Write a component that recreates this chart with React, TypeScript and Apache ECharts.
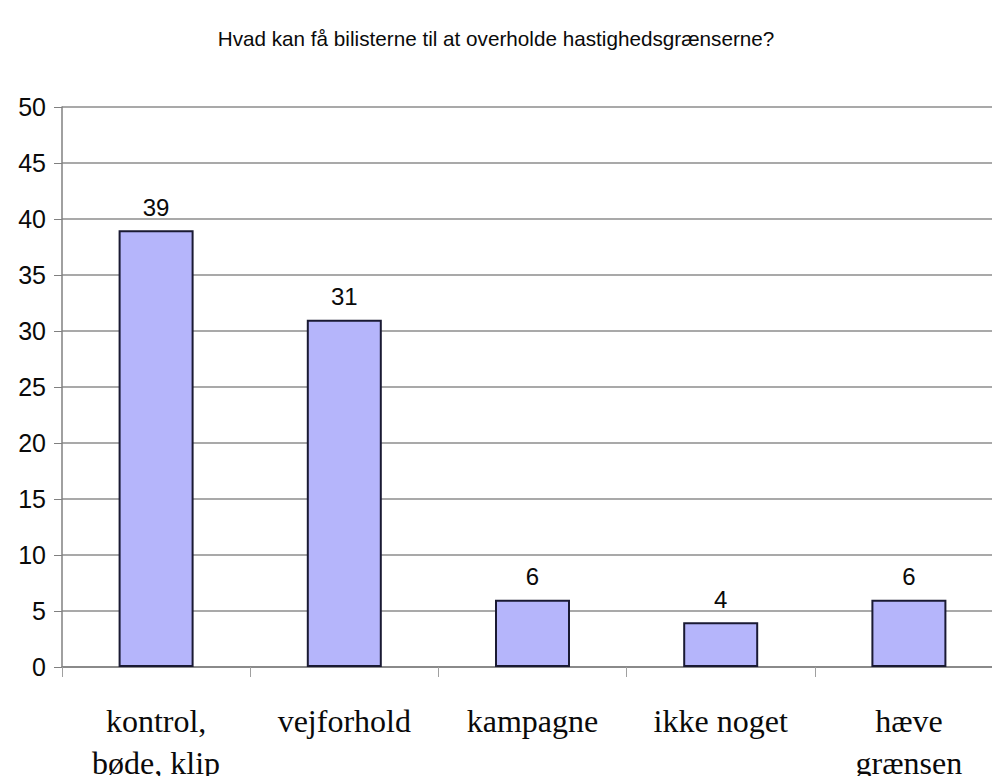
import React, { useEffect, useRef } from "react";
import * as echarts from "echarts";

const titleText = "Hvad kan få bilisterne til at overholde hastighedsgrænserne?";
const categories = ["kontrol,\nbøde, klip", "vejforhold", "kampagne", "ikke noget", "hæve\ngrænsen"];
const values = [39, 31, 6, 4, 6];

export default function App() {
  const ref = useRef<HTMLDivElement>(null);
  useEffect(() => {
    if (!ref.current) return;
    const chart = echarts.init(ref.current, null, { renderer: "svg" });
    chart.setOption({
      animation: false,
      backgroundColor: "#ffffff",
      title: {
        text: titleText,
        left: "center",
        top: 23,
        textStyle: { fontFamily: "Liberation Sans, Arial", fontSize: 20.7, fontWeight: "normal", color: "#0a0a0a" },
      },
      grid: { left: 62, top: 107, width: 941, height: 560, containLabel: false, outerBoundsMode: "none" },
      xAxis: {
        type: "category",
        data: categories,
        boundaryGap: true,
        axisLine: { show: true, lineStyle: { color: "#808080", width: 1.5 } },
        axisTick: { show: true, length: 10, alignWithLabel: false, lineStyle: { color: "#a0a0a0" } },
        axisLabel: {
          interval: 0,
          margin: 33,
          fontFamily: "Liberation Serif, Times New Roman, serif",
          fontSize: 32,
          lineHeight: 42,
          color: "#0a0a0a",
        },
      },
      yAxis: {
        type: "value",
        min: 0,
        max: 50,
        interval: 5,
        axisLine: { show: true, lineStyle: { color: "#808080", width: 1.5 } },
        axisTick: { show: true, length: 8, lineStyle: { color: "#808080" } },
        splitLine: { show: true, lineStyle: { color: "#8c8c8c", width: 1.5 } },
        axisLabel: {
          margin: 16,
          fontFamily: "Liberation Sans, Arial",
          fontSize: 25,
          color: "#0a0a0a",
        },
      },
      series: [
        {
          type: "bar",
          data: values,
          barWidth: 75,
          itemStyle: { color: "#b5b5fb", borderColor: "#1a1a33", borderWidth: 2 },
          label: {
            show: true,
            position: "top",
            distance: 11,
            fontFamily: "Liberation Sans, Arial",
            fontSize: 24,
            color: "#0a0a0a",
          },
        },
      ],
    });
    return () => chart.dispose();
  }, []);
  return <div ref={ref} style={{ position: "absolute", left: 0, top: 0, width: 992, height: 776 }} />;
}
